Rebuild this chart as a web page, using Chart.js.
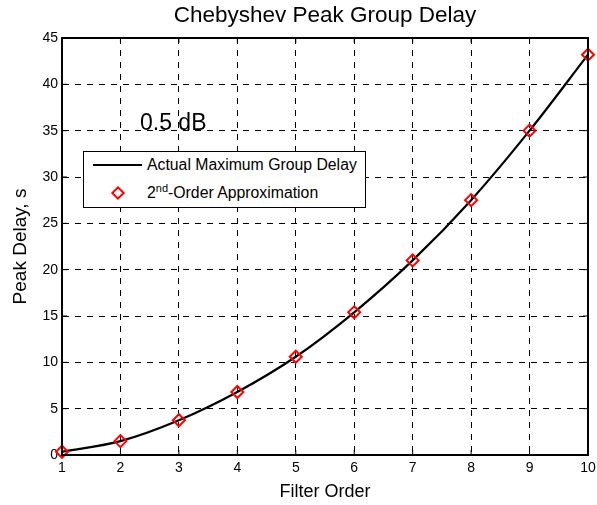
<!DOCTYPE html>
<html>
<head>
<meta charset="utf-8">
<script src="https://cdn.jsdelivr.net/npm/chart.js@4/dist/chart.umd.min.js"></script>
<style>
  html, body { margin: 0; padding: 0; background: #fff; }
  #wrap { position: relative; width: 597px; height: 505px; font-family: "Liberation Sans", Arial, sans-serif; }
  canvas { position: absolute; left: 0; top: 0; }
  #note { position: absolute; left: 140px; top: 108px; font-size: 23px; line-height: 28px; color: #000; }
  #legend { position: absolute; left: 83px; top: 151px; width: 283px; height: 57px; border: 1px solid #000; background: #fff; box-sizing: border-box; font-size: 15.8px; color: #000; }
  .row { position: absolute; left: 0; width: 280px; height: 20px; line-height: 20px; }
  .sample-line { position: absolute; left: 9px; top: 9px; width: 49px; height: 2px; background: #000; }
  .sample-dia { position: absolute; left: 29px; top: 5px; width: 6px; height: 6px; border: 2px solid #f00; transform: rotate(45deg); background: #fff; }
  .lbl { position: absolute; left: 63px; top: 0; white-space: nowrap; }
  sup { font-size: 11px; vertical-align: 6px; line-height: 0; }
</style>
</head>
<body>
<div id="wrap">
  <canvas id="c" width="597" height="505"></canvas>
  <div id="note">0.5 dB</div>
  <div id="legend">
    <div class="row" style="top:3px"><div class="sample-line"></div><div class="lbl">Actual Maximum Group Delay</div></div>
    <div class="row" style="top:31px"><div class="sample-dia"></div><div class="lbl">2<sup>nd</sup>-Order Approximation</div></div>
  </div>
</div>
<script>
const filterOrder = [1, 2, 3, 4, 5, 6, 7, 8, 9, 10];
const actualDelay = [0.35, 1.5, 3.75, 6.8, 10.6, 15.4, 21.0, 27.5, 35.0, 43.2];
const approxDelay = [0.35, 1.5, 3.75, 6.8, 10.6, 15.4, 21.0, 27.5, 35.0, 43.2];
const yTicks = [0, 5, 10, 15, 20, 25, 30, 35, 40, 45];
const titleText = 'Chebyshev Peak Group Delay';
const xTitle = 'Filter Order';
const yTitle = 'Peak Delay, s';

const FONT = '"Liberation Sans", Arial, sans-serif';

const framePlugin = {
  id: 'frame',
  afterDraw(chart) {
    const { ctx, chartArea: a, scales } = chart;
    ctx.save();
    ctx.strokeStyle = '#000';
    ctx.lineWidth = 2;
    ctx.strokeRect(a.left, a.top, a.right - a.left, a.bottom - a.top);
    ctx.lineWidth = 1;
    ctx.beginPath();
    filterOrder.forEach(v => {
      const x = scales.x.getPixelForValue(v);
      ctx.moveTo(x, a.top); ctx.lineTo(x, a.top + 5);
      ctx.moveTo(x, a.bottom); ctx.lineTo(x, a.bottom - 5);
    });
    yTicks.forEach(v => {
      const y = scales.y.getPixelForValue(v);
      ctx.moveTo(a.left, y); ctx.lineTo(a.left + 5, y);
      ctx.moveTo(a.right, y); ctx.lineTo(a.right - 5, y);
    });
    ctx.stroke();
    ctx.fillStyle = '#000';
    ctx.font = '22.5px ' + FONT;
    ctx.textAlign = 'center';
    ctx.textBaseline = 'middle';
    ctx.fillText(titleText, (a.left + a.right) / 2, 16);
    ctx.restore();
  }
};

new Chart(document.getElementById('c'), {
  type: 'line',
  data: {
    datasets: [
      {
        label: 'Actual Maximum Group Delay',
        data: filterOrder.map((x, i) => ({ x, y: actualDelay[i] })),
        borderColor: '#000',
        borderWidth: 2.2,
        pointRadius: 0,
        cubicInterpolationMode: 'monotone',
        fill: false,
        clip: false,
        order: 2
      },
      {
        label: '2nd-Order Approximation',
        data: filterOrder.map((x, i) => ({ x, y: approxDelay[i] })),
        showLine: false,
        pointStyle: 'rectRot',
        pointRadius: 6,
        pointBorderWidth: 2,
        pointBorderColor: '#f00',
        pointBackgroundColor: 'rgba(255,255,255,0)',
        clip: false,
        order: 1
      }
    ]
  },
  options: {
    responsive: false,
    animation: false,
    layout: { padding: { left: 0, right: 9, top: 38, bottom: 0 } },
    plugins: { legend: { display: false }, title: { display: false }, tooltip: { enabled: false } },
    scales: {
      x: {
        type: 'linear', min: 1, max: 10,
        afterFit(s) { s.height = 50; s.paddingLeft = 0; s.paddingRight = 0; },
        ticks: { stepSize: 1, color: '#000', font: { family: FONT, size: 14 }, padding: 5 },
        grid: { color: '#000', lineWidth: 1, drawTicks: false },
        border: { display: true, color: '#000', width: 2, dash: [6, 6] },
        title: { display: true, text: xTitle, color: '#000', font: { family: FONT, size: 18 }, padding: { top: 2, bottom: 2 } }
      },
      y: {
        type: 'linear', min: 0, max: 45,
        afterFit(s) { s.width = 62; s.paddingTop = 0; s.paddingBottom = 0; },
        afterBuildTicks(s) { s.ticks = yTicks.map(v => ({ value: v })); },
        ticks: { color: '#000', font: { family: FONT, size: 14 }, padding: 4 },
        grid: { color: '#000', lineWidth: 1, drawTicks: false },
        border: { display: true, color: '#000', width: 2, dash: [6, 6] },
        title: { display: true, text: yTitle, color: '#000', font: { family: FONT, size: 19 }, padding: { top: 9, bottom: 0 } }
      }
    }
  },
  plugins: [framePlugin]
});
</script>
</body>
</html>
